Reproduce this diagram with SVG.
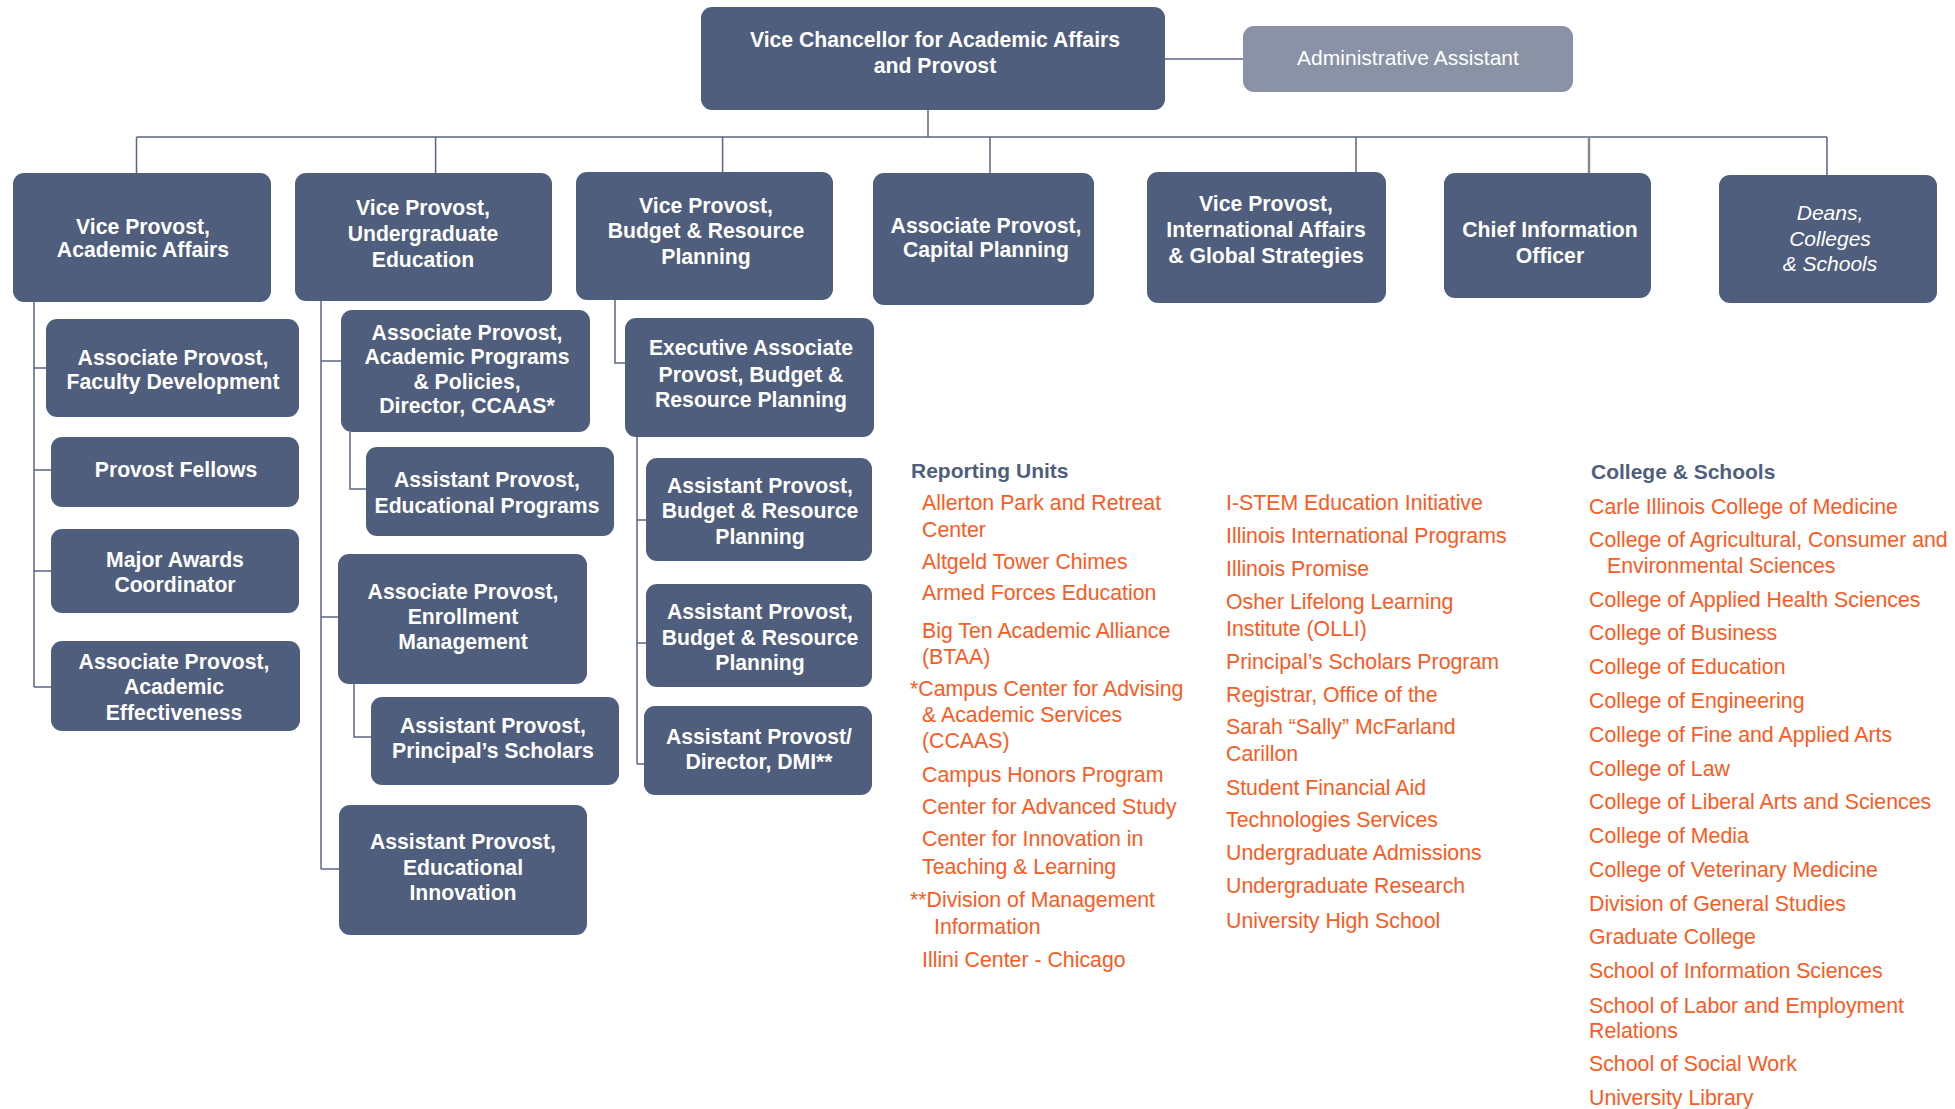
<svg xmlns="http://www.w3.org/2000/svg" width="1955" height="1109" viewBox="0 0 1955 1109">
<style>
.box{fill:#4f5e7c}
.adm{fill:#8a93a5}
.bt{font-family:"Liberation Sans",Arial,sans-serif;font-size:21.2px;font-weight:bold;fill:#ffffff;text-anchor:middle}
.it{font-family:"Liberation Sans",Arial,sans-serif;font-size:21px;font-style:italic;fill:#ffffff;text-anchor:middle}
.rt{font-family:"Liberation Sans",Arial,sans-serif;font-size:21px;fill:#ffffff;text-anchor:middle}
.hd{font-family:"Liberation Sans",Arial,sans-serif;font-size:21px;font-weight:bold;fill:#4f5e7c}
.or{font-family:"Liberation Sans",Arial,sans-serif;font-size:21.3px;fill:#fb5b22}
.ln{fill:none;stroke:#5a6680;stroke-width:1.5}
</style>
<rect width="1955" height="1109" fill="#ffffff"/>
<g id="connectors">
<path class="ln" d="M1165 59H1243"/>
<path class="ln" d="M928 110V137M136.5 137H1827M136.5 137V173M435.6 137V173M722.6 137V172M990 137V173M1356 137V172M1827 137V175"/>
<path d="M1589 137V173" fill="none" stroke="#8a8a8a" stroke-width="2.5"/>
<path class="ln" d="M34 302V687M34 368H46M34 470H51M34 571H51M34 687H51"/>
<path class="ln" d="M321 301V869M321 361H341M321 617H338M321 869H339"/>
<path class="ln" d="M350 432V489H366M354 684V737H371"/>
<path class="ln" d="M615 300V363H625M637 437V764M637 520H646M637 643H646M637 764H644"/>
</g>
<g id="vc">
<rect class="box" x="701" y="7" width="464" height="103" rx="11"/>
<text class="bt" x="935" y="47">Vice Chancellor for Academic Affairs</text>
<text class="bt" x="935" y="73">and Provost</text>
</g>
<g id="admin">
<rect class="adm" x="1243" y="26" width="330" height="66" rx="11"/>
<text class="rt" x="1408" y="65">Administrative Assistant</text>
</g>
<g id="vp-aa">
<rect class="box" x="13" y="173" width="258" height="129" rx="11"/>
<text class="bt" x="143" y="234">Vice Provost,</text>
<text class="bt" x="143" y="257">Academic Affairs</text>
</g>
<g id="vp-ue">
<rect class="box" x="295" y="173" width="257" height="128" rx="11"/>
<text class="bt" x="423" y="215">Vice Provost,</text>
<text class="bt" x="423" y="241">Undergraduate</text>
<text class="bt" x="423" y="267">Education</text>
</g>
<g id="vp-brp">
<rect class="box" x="576" y="172" width="257" height="128" rx="11"/>
<text class="bt" x="706" y="213">Vice Provost,</text>
<text class="bt" x="706" y="238">Budget &amp; Resource</text>
<text class="bt" x="706" y="264">Planning</text>
</g>
<g id="ap-cp">
<rect class="box" x="873" y="173" width="221" height="132" rx="11"/>
<text class="bt" x="986" y="233">Associate Provost,</text>
<text class="bt" x="986" y="257">Capital Planning</text>
</g>
<g id="vp-ia">
<rect class="box" x="1147" y="172" width="239" height="131" rx="11"/>
<text class="bt" x="1266" y="211">Vice Provost,</text>
<text class="bt" x="1266" y="237">International Affairs</text>
<text class="bt" x="1266" y="263">&amp; Global Strategies</text>
</g>
<g id="cio">
<rect class="box" x="1444" y="173" width="207" height="125" rx="11"/>
<text class="bt" x="1550" y="237">Chief Information</text>
<text class="bt" x="1550" y="263">Officer</text>
</g>
<g id="deans">
<rect class="box" x="1719" y="175" width="218" height="128" rx="11"/>
<text class="it" x="1830" y="220">Deans,</text>
<text class="it" x="1830" y="246">Colleges</text>
<text class="it" x="1830" y="271">&amp; Schools</text>
</g>
<g id="ap-fd">
<rect class="box" x="46" y="319" width="253" height="98" rx="11"/>
<text class="bt" x="173" y="365">Associate Provost,</text>
<text class="bt" x="173" y="389">Faculty Development</text>
</g>
<g id="pf">
<rect class="box" x="51" y="437" width="248" height="70" rx="11"/>
<text class="bt" x="176" y="477">Provost Fellows</text>
</g>
<g id="mac">
<rect class="box" x="51" y="529" width="248" height="84" rx="11"/>
<text class="bt" x="175" y="567">Major Awards</text>
<text class="bt" x="175" y="592">Coordinator</text>
</g>
<g id="ap-ae">
<rect class="box" x="51" y="641" width="249" height="90" rx="11"/>
<text class="bt" x="174" y="669">Associate Provost,</text>
<text class="bt" x="174" y="694">Academic</text>
<text class="bt" x="174" y="720">Effectiveness</text>
</g>
<g id="ap-app">
<rect class="box" x="341" y="310" width="249" height="122" rx="11"/>
<text class="bt" x="467" y="340">Associate Provost,</text>
<text class="bt" x="467" y="364">Academic Programs</text>
<text class="bt" x="467" y="389">&amp; Policies,</text>
<text class="bt" x="467" y="413">Director, CCAAS*</text>
</g>
<g id="asp-ep">
<rect class="box" x="366" y="447" width="248" height="89" rx="11"/>
<text class="bt" x="487" y="487">Assistant Provost,</text>
<text class="bt" x="487" y="513">Educational Programs</text>
</g>
<g id="ap-em">
<rect class="box" x="338" y="554" width="249" height="130" rx="11"/>
<text class="bt" x="463" y="599">Associate Provost,</text>
<text class="bt" x="463" y="624">Enrollment</text>
<text class="bt" x="463" y="649">Management</text>
</g>
<g id="asp-ps">
<rect class="box" x="371" y="697" width="248" height="88" rx="11"/>
<text class="bt" x="493" y="733">Assistant Provost,</text>
<text class="bt" x="493" y="758">Principal’s Scholars</text>
</g>
<g id="asp-ei">
<rect class="box" x="339" y="805" width="248" height="130" rx="11"/>
<text class="bt" x="463" y="849">Assistant Provost,</text>
<text class="bt" x="463" y="875">Educational</text>
<text class="bt" x="463" y="900">Innovation</text>
</g>
<g id="eap-brp">
<rect class="box" x="625" y="318" width="249" height="119" rx="11"/>
<text class="bt" x="751" y="355">Executive Associate</text>
<text class="bt" x="751" y="382">Provost, Budget &amp;</text>
<text class="bt" x="751" y="407">Resource Planning</text>
</g>
<g id="asp-brp1">
<rect class="box" x="646" y="458" width="226" height="103" rx="11"/>
<text class="bt" x="760" y="493">Assistant Provost,</text>
<text class="bt" x="760" y="518">Budget &amp; Resource</text>
<text class="bt" x="760" y="544">Planning</text>
</g>
<g id="asp-brp2">
<rect class="box" x="646" y="584" width="226" height="103" rx="11"/>
<text class="bt" x="760" y="619">Assistant Provost,</text>
<text class="bt" x="760" y="645">Budget &amp; Resource</text>
<text class="bt" x="760" y="670">Planning</text>
</g>
<g id="asp-dmi">
<rect class="box" x="644" y="706" width="228" height="89" rx="11"/>
<text class="bt" x="759" y="744">Assistant Provost/</text>
<text class="bt" x="759" y="769">Director, DMI**</text>
</g>
<g id="reporting-units">
<text class="hd" x="911" y="478">Reporting Units</text>
<text class="or" x="922" y="510">Allerton Park and Retreat</text>
<text class="or" x="922" y="537">Center</text>
<text class="or" x="922" y="569">Altgeld Tower Chimes</text>
<text class="or" x="922" y="600">Armed Forces Education</text>
<text class="or" x="922" y="638">Big Ten Academic Alliance</text>
<text class="or" x="922" y="664">(BTAA)</text>
<text class="or" x="910" y="696">*Campus Center for Advising</text>
<text class="or" x="922" y="722">&amp; Academic Services</text>
<text class="or" x="922" y="748">(CCAAS)</text>
<text class="or" x="922" y="782">Campus Honors Program</text>
<text class="or" x="922" y="814">Center for Advanced Study</text>
<text class="or" x="922" y="846">Center for Innovation in</text>
<text class="or" x="922" y="874">Teaching &amp; Learning</text>
<text class="or" x="910" y="907">**Division of Management</text>
<text class="or" x="934" y="934">Information</text>
<text class="or" x="922" y="967">Illini Center - Chicago</text>
<text class="or" x="1226" y="510">I-STEM Education Initiative</text>
<text class="or" x="1226" y="543">Illinois International Programs</text>
<text class="or" x="1226" y="576">Illinois Promise</text>
<text class="or" x="1226" y="609">Osher Lifelong Learning</text>
<text class="or" x="1226" y="636">Institute (OLLI)</text>
<text class="or" x="1226" y="669">Principal’s Scholars Program</text>
<text class="or" x="1226" y="702">Registrar, Office of the</text>
<text class="or" x="1226" y="734">Sarah “Sally” McFarland</text>
<text class="or" x="1226" y="761">Carillon</text>
<text class="or" x="1226" y="795">Student Financial Aid</text>
<text class="or" x="1226" y="827">Technologies Services</text>
<text class="or" x="1226" y="860">Undergraduate Admissions</text>
<text class="or" x="1226" y="893">Undergraduate Research</text>
<text class="or" x="1226" y="928">University High School</text>
</g>
<g id="colleges-schools">
<text class="hd" x="1591" y="479">College &amp; Schools</text>
<text class="or" x="1589" y="514">Carle Illinois College of Medicine</text>
<text class="or" x="1589" y="547">College of Agricultural, Consumer and</text>
<text class="or" x="1607" y="573">Environmental Sciences</text>
<text class="or" x="1589" y="607">College of Applied Health Sciences</text>
<text class="or" x="1589" y="640">College of Business</text>
<text class="or" x="1589" y="674">College of Education</text>
<text class="or" x="1589" y="708">College of Engineering</text>
<text class="or" x="1589" y="742">College of Fine and Applied Arts</text>
<text class="or" x="1589" y="776">College of Law</text>
<text class="or" x="1589" y="809">College of Liberal Arts and Sciences</text>
<text class="or" x="1589" y="843">College of Media</text>
<text class="or" x="1589" y="877">College of Veterinary Medicine</text>
<text class="or" x="1589" y="911">Division of General Studies</text>
<text class="or" x="1589" y="944">Graduate College</text>
<text class="or" x="1589" y="978">School of Information Sciences</text>
<text class="or" x="1589" y="1013">School of Labor and Employment</text>
<text class="or" x="1589" y="1038">Relations</text>
<text class="or" x="1589" y="1071">School of Social Work</text>
<text class="or" x="1589" y="1105">University Library</text>
</g>
</svg>
